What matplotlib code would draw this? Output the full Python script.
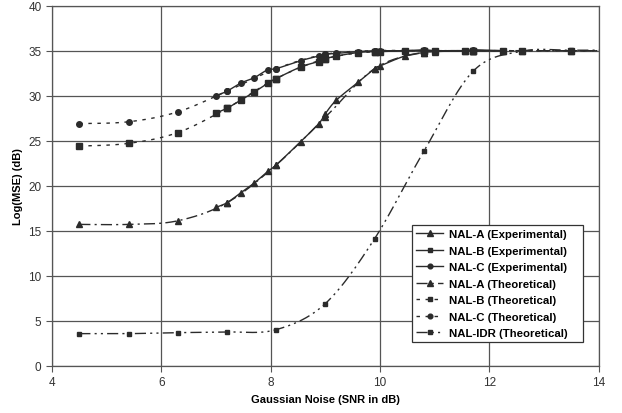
import matplotlib
matplotlib.use("Agg")
import matplotlib.pyplot as plt
import numpy as np
from matplotlib.lines import Line2D

plt.rcParams['font.family'] = ['Liberation Sans', 'DejaVu Sans']

# Experimental SNR points
x_exp = [7.0, 7.2, 7.45, 7.7, 7.95, 8.1, 8.55, 8.88, 9.0, 9.2, 9.6, 9.9, 10.0,
         10.45, 10.8, 11.0, 11.55, 11.7, 12.25]
a_exp = [17.6, 18.1, 19.2, 20.3, 21.6, 22.3, 24.9, 26.9, 28.0, 29.5, 31.5, 33.0, 33.3,
         34.4, 34.8, 34.9, 35.0, 35.0, 35.0]
b_exp = [28.1, 28.6, 29.5, 30.4, 31.4, 31.9, 33.2, 33.8, 34.1, 34.4, 34.8, 34.9, 34.9,
         35.0, 35.0, 35.0, 35.0, 35.0, 35.0]
c_exp = [30.0, 30.5, 31.4, 32.0, 32.9, 33.0, 33.9, 34.4, 34.6, 34.7, 34.9, 35.0, 35.0,
         35.0, 35.1, 35.0, 35.0, 35.1, 35.0]

# Theoretical SNR points
x_th = [4.5, 5.4, 6.3, 7.2, 8.1, 9.0, 9.9, 10.8, 11.7, 12.6, 13.5, 14.4]
a_th = [15.7, 15.7, 16.1, 18.1, 22.3, 27.6, 33.0, 34.8, 35.0, 35.0, 35.0, 35.0]
b_th = [24.4, 24.7, 25.9, 28.6, 31.9, 34.1, 34.9, 35.0, 35.0, 35.0, 35.0, 35.0]
c_th = [26.9, 27.1, 28.2, 30.5, 33.0, 34.6, 35.0, 35.0, 35.0, 35.0, 35.0, 35.0]
idr_th = [3.56, 3.56, 3.67, 3.74, 4.0, 6.9, 14.1, 23.8, 32.7, 34.95, 35.05, 35.05]

labels = ["NAL-A (Experimental)", "NAL-B (Experimental)", "NAL-C (Experimental)",
          "NAL-A (Theoretical)", "NAL-B (Theoretical)", "NAL-C (Theoretical)",
          "NAL-IDR (Theoretical)"]


def smooth(xs, ys, sx=54.65, sy=9.0, n=24):
    """Excel-like smoothed line (Bezier with Catmull-Rom tangents), drawn in pixel-scaled space."""
    p = np.column_stack([np.asarray(xs) * sx, np.asarray(ys) * sy])
    out = [p[0]]
    for i in range(len(p) - 1):
        p0 = p[i - 1] if i > 0 else p[i]
        p1, p2 = p[i], p[i + 1]
        p3 = p[i + 2] if i + 2 < len(p) else p[i + 1]
        c1 = p1 + (p2 - p0) / 6.0
        c2 = p2 - (p3 - p1) / 6.0
        t = np.linspace(0, 1, n)[1:, None]
        seg = ((1 - t) ** 3) * p1 + 3 * ((1 - t) ** 2) * t * c1 + 3 * (1 - t) * t ** 2 * c2 + t ** 3 * p2
        out.extend(seg)
    out = np.array(out)
    return out[:, 0] / sx, out[:, 1] / sy


fig = plt.figure(figsize=(6.22, 4.14), dpi=100)
ax = fig.add_axes([0.0836, 0.1143, 0.8789, 0.8695])

col = '#2b2b2b'
lw = 1.0
ls_a = (0, (8, 3, 1.5, 3))
ls_bc = (0, (2.5, 4))
ls_idr = (0, (8, 3, 1.5, 3, 1.5, 3))

series = [
    (x_exp, a_exp, '-', '^', 4.5, 4),
    (x_exp, b_exp, '-', 's', 4.0, 4),
    (x_exp, c_exp, '-', 'o', 4.0, 4),
    (x_th, a_th, ls_a, '^', 4.5, 3),
    (x_th, b_th, ls_bc, 's', 4.0, 3),
    (x_th, c_th, ls_bc, 'o', 4.0, 3),
    (x_th, idr_th, ls_idr, 's', 3.0, 3),
]
handles = []
for (xs, ys, ls, mk, ms, z), lab in zip(series, labels):
    sxv, syv = smooth(xs, ys)
    ax.plot(sxv, syv, color=col, lw=lw, ls=ls, zorder=z)
    ax.plot(xs, ys, ls='none', marker=mk, ms=ms, color=col, zorder=z + 0.5)
    handles.append(Line2D([], [], color=col, lw=lw, ls=ls, marker=mk, ms=ms * 0.85))

ax.set_xlim(4, 14)
ax.set_ylim(0, 40)
ax.set_xticks([4, 6, 8, 10, 12, 14])
ax.set_yticks(range(0, 41, 5))
ax.grid(True, color='#555555', lw=0.9)
ax.set_axisbelow(True)
for s in ax.spines.values():
    s.set_color('#555555')
    s.set_linewidth(0.9)
ax.tick_params(axis='both', labelsize=8.5, colors='#555555', labelcolor='#333333', length=4, direction='out')

ax.set_xlabel("Gaussian Noise (SNR in dB)", fontsize=8, fontweight='bold', labelpad=4)
ax.set_ylabel("Log(MSE) (dB)", fontsize=8, fontweight='bold', labelpad=4)

leg = ax.legend(handles, labels,
                loc='upper left', bbox_to_anchor=(0.6585, 0.39, 0.3128, 0.0), mode='expand',
                fancybox=False, framealpha=1, edgecolor='#333333',
                prop={'weight': 'bold', 'size': 8.2}, handlelength=2.4, handletextpad=0.5,
                borderpad=0.35, labelspacing=0.57, borderaxespad=0)
leg.get_frame().set_linewidth(0.9)

fig.savefig("out.png", dpi=100)
